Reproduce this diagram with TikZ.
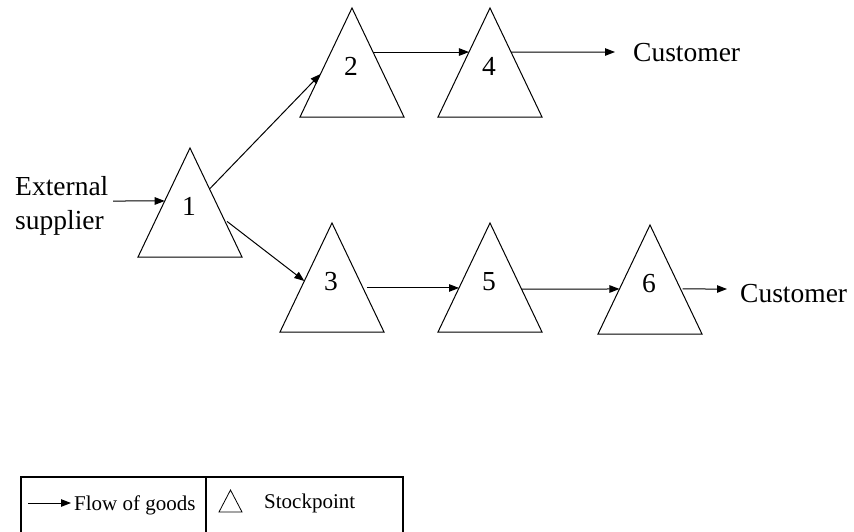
\documentclass[tikz,border=0pt]{standalone}
\usepackage{fontspec}
\setmainfont{Liberation Serif}
\usetikzlibrary{arrows.meta,calc}

% one stockpoint: apex, base corners and a label node
\newcommand{\stockpoint}[4]{%
  \coordinate (#1-a) at (#2,#3);
  \coordinate (#1-l) at ($(#2,#3)+(-52,109)$);
  \coordinate (#1-r) at ($(#2,#3)+(52,109)$);
  \draw[tri] (#1-a) -- (#1-l) -- (#1-r) -- cycle;
  \node[lbl, anchor=base] (#1) at ($(#2,#3)+(-1,67)$) {#4};
}

\begin{document}
\begin{tikzpicture}[x=1pt,y=-1pt,
  tri/.style={draw=black, line width=1pt, line join=miter},
  flow/.style={draw=black, line width=1pt, -{Triangle[length=10pt,width=7.5pt]}},
  lbl/.style={inner sep=0pt, font=\fontsize{27.5}{33}\selectfont},
  small/.style={inner sep=0pt, font=\fontsize{21}{25}\selectfont},
]
\useasboundingbox (0,0) rectangle (854,531);

% stockpoints
\stockpoint{s1}{190}{148}{1}
\stockpoint{s2}{352}{8}{2}
\stockpoint{s4}{490}{8}{4}
\stockpoint{s3}{332}{223}{3}
\stockpoint{s5}{490}{223}{5}
\stockpoint{s6}{650}{225}{6}

% sources and sinks
\node[lbl, anchor=base west] (ext) at (15,195) {External};
\node[lbl, anchor=base west] (sup) at (15,229) {supplier};
\node[lbl, anchor=base west] (cust1) at (633,61) {Customer};
\node[lbl, anchor=base west] (cust2) at (740,302) {Customer};

% points where the flows leave or enter the triangles
\coordinate (e0) at (113,201);
\coordinate (in1) at ($(s1-a)!0.486!(s1-l)$);
\coordinate (o12) at ($(s1-a)!0.376!(s1-r)$);
\coordinate (in2) at ($(s2-a)!0.606!(s2-l)$);
\coordinate (o24) at ($(s2-a)!0.404!(s2-r)$);
\coordinate (in4) at ($(s4-a)!0.404!(s4-l)$);
\coordinate (o4) at ($(s4-a)!0.404!(s4-r)$);
\coordinate (c1) at (615,52);
\coordinate (o13) at ($(s1-a)!0.651!(s1-r)$);
\coordinate (in3) at ($(s3-a)!0.532!(s3-l)$);
\coordinate (o35) at ($(s3-a)!0.596!(s3-r)$);
\coordinate (in5) at ($(s5-a)!0.596!(s5-l)$);
\coordinate (o56) at ($(s5-a)!0.606!(s5-r)$);
\coordinate (in6) at ($(s6-a)!0.587!(s6-l)$);
\coordinate (o6) at ($(s6-a)!0.587!(s6-r)$);
\coordinate (c2) at (727,289);

% flow of goods
\draw[flow] (e0) -- (in1);
\draw[flow] (o12) -- (in2);
\draw[flow] (o24) -- (in4);
\draw[flow] (o4) -- (c1);
\draw[flow, shorten <=4pt] (o13) -- (in3);
\draw[flow, shorten <=4pt] (o35) -- (in5);
\draw[flow] (o56) -- (in6);
\draw[flow, shorten <=2pt] (o6) -- (c2);

% legend
\begin{scope}
  \clip (0,0) rectangle (854,531);
  \draw[line width=1.2pt] (21,477) rectangle (403,560);
  \draw[line width=1.2pt] (206,477) -- (206,560);
\end{scope}
\coordinate (la) at (28,503);
\coordinate (lb) at (71,503);
\draw[flow] (la) -- (lb);
\node[small, anchor=base west] (flowtxt) at (74,510) {Flow of goods};
\draw[line width=0.8pt] (219,512) -- (242,512) -- (230.5,490) -- cycle;
\node[small, anchor=base west] (stocktxt) at (264,508) {Stockpoint};
\end{tikzpicture}
\end{document}
